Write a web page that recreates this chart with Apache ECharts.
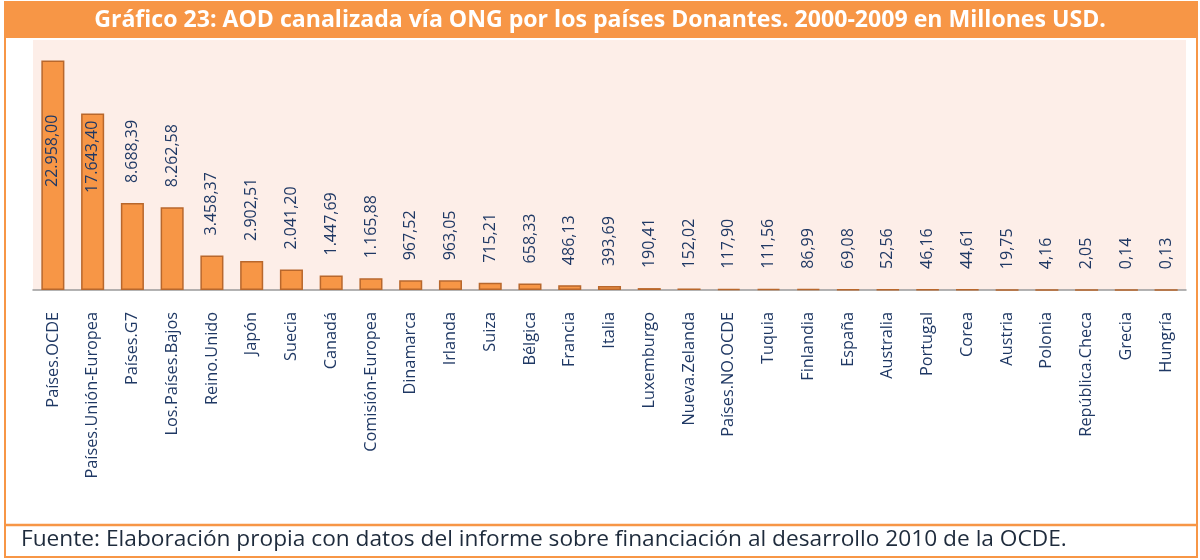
<!DOCTYPE html>
<html lang="es">
<head>
  <meta charset="UTF-8">
  <title>AOD canalizada vía ONG</title>
  <script src="https://cdn.jsdelivr.net/npm/echarts@6/dist/echarts.min.js"></script>
  <style>
    html, body { margin: 0; padding: 0; background: #fff; }
    #chart { width: 1200px; height: 560px; }
  </style>
</head>
<body>
  <div id="chart"></div>
  <script>
    // datos del gráfico
    const categories = ['Países.OCDE', 'Países.Unión-Europea', 'Países.G7', 'Los.Países.Bajos', 'Reino.Unido',
      'Japón', 'Suecia', 'Canadá', 'Comisión-Europea', 'Dinamarca', 'Irlanda', 'Suiza', 'Bélgica', 'Francia',
      'Italia', 'Luxemburgo', 'Nueva.Zelanda', 'Países.NO.OCDE', 'Tuquia', 'Finlandia', 'España', 'Australia',
      'Portugal', 'Corea', 'Austria', 'Polonia', 'República.Checa', 'Grecia', 'Hungría'];
    const values = [22958.00, 17643.40, 8688.39, 8262.58, 3458.37, 2902.51, 2041.20, 1447.69, 1165.88, 967.52,
      963.05, 715.21, 658.33, 486.13, 393.69, 190.41, 152.02, 117.90, 111.56, 86.99, 69.08, 52.56, 46.16,
      44.61, 19.75, 4.16, 2.05, 0.14, 0.13];
    // las dos primeras etiquetas van dentro de la barra
    const insideLabels = [103, 97];

    const titleText = 'Gráfico 23: AOD canalizada vía ONG por los países Donantes. 2000-2009 en Millones USD.';
    const sourceText = 'Fuente: Elaboración propia con datos del informe sobre financiación al desarrollo 2010 de la OCDE.';

    const orange = '#f79646';
    const navy = '#1f3864';

    // formato español: 22.958,00
    function fmt(v) {
      const parts = v.toFixed(2).split('.');
      parts[0] = parts[0].replace(/\B(?=(\d{3})+(?!\d))/g, '.');
      return parts.join(',');
    }

    const seriesData = values.map((v, i) => {
      const item = { value: v };
      if (i < insideLabels.length) {
        item.label = { position: 'insideBottom', distance: insideLabels[i] };
      }
      return item;
    });

    const chart = echarts.init(document.getElementById('chart'));
    chart.setOption({
      animation: false,
      textStyle: { fontFamily: 'Open Sans' },
      graphic: [
        { type: 'rect', shape: { x: 5, y: 2, width: 1192, height: 36 }, style: { fill: orange }, z: -1 },
        { type: 'rect', shape: { x: 5, y: 2, width: 1192, height: 555 }, style: { fill: 'none', stroke: orange, lineWidth: 2 } },
        { type: 'line', shape: { x1: 5, y1: 525, x2: 1197, y2: 525 }, style: { stroke: orange, lineWidth: 2.5 } },
        { type: 'text', left: 21, top: 528, style: { text: sourceText, fontSize: 22.7, fill: '#1e2b3c', fontFamily: 'Open Sans' } }
      ],
      title: {
        text: titleText,
        left: 'center',
        top: 4,
        textStyle: { color: '#fff', fontSize: 23.1, fontWeight: 'bold', fontFamily: 'Open Sans' }
      },
      grid: {
        left: 33, right: 14, top: 40, bottom: 270,
        show: true, backgroundColor: '#fdeee8', borderWidth: 0
      },
      xAxis: {
        type: 'category',
        data: categories,
        axisLine: { lineStyle: { color: '#9a9a9a', width: 1.5 } },
        axisTick: { show: false },
        axisLabel: { interval: 0, rotate: 90, margin: 22, fontSize: 16.3, color: navy }
      },
      yAxis: {
        type: 'value',
        min: 0,
        max: 25000,
        show: false,
        splitLine: { show: false }
      },
      series: [{
        type: 'bar',
        data: seriesData,
        barCategoryGap: '42%',
        itemStyle: { color: orange, borderColor: '#b8672c', borderWidth: 1.5 },
        label: {
          show: true,
          position: 'top',
          distance: 20,
          rotate: 90,
          align: 'left',
          verticalAlign: 'middle',
          fontSize: 16,
          color: navy,
          formatter: p => fmt(p.value)
        }
      }]
    });
  </script>
</body>
</html>
